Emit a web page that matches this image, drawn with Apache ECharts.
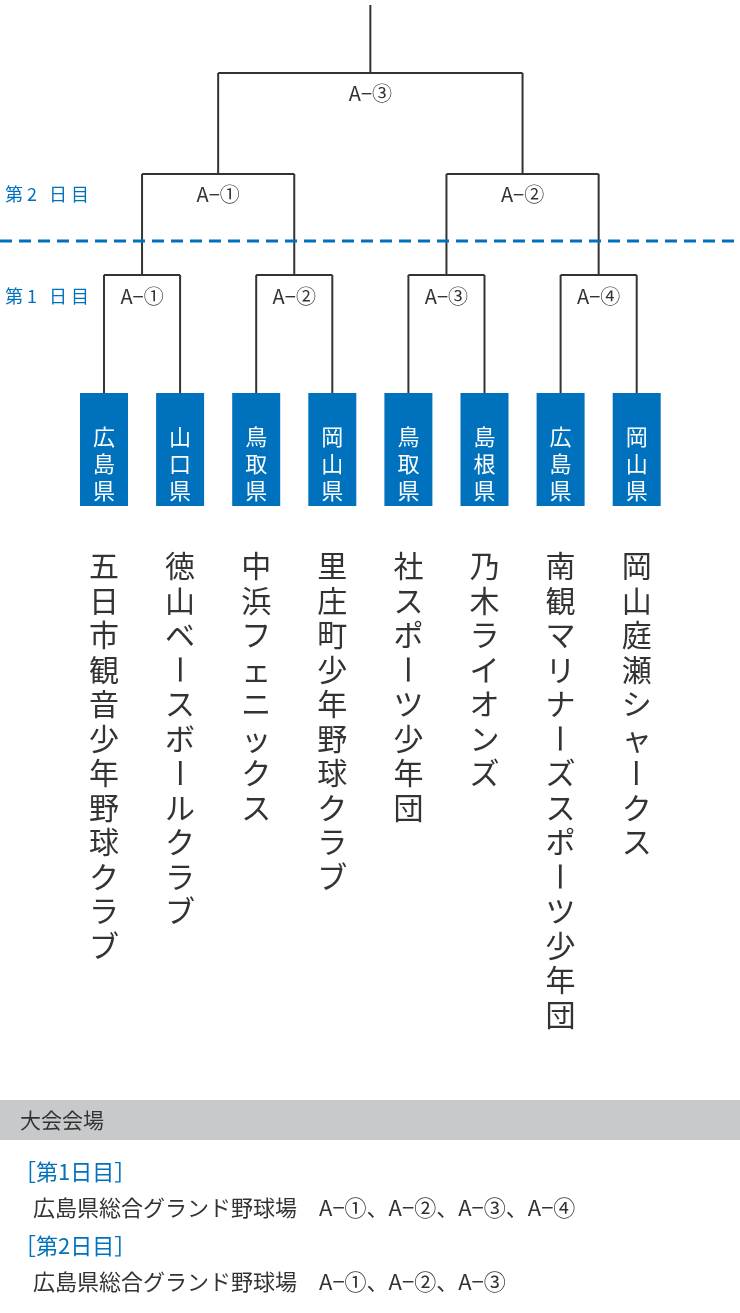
<!DOCTYPE html>
<html><head><meta charset="utf-8">
<script src="https://cdn.jsdelivr.net/npm/echarts@6/dist/echarts.min.js"></script>
<style>html,body{margin:0;padding:0;background:#fff}#c{width:740px;height:1313px}</style>
</head><body><div id="c"></div>
<script>
;(function() {
  const prefectures = ['広島県', '山口県', '鳥取県', '岡山県', '鳥取県', '島根県', '広島県', '岡山県']
  const teams = ['五日市観音少年野球クラブ', '徳山ベースボールクラブ', '中浜フェニックス', '里庄町少年野球クラブ',
    '社スポーツ少年団', '乃木ライオンズ', '南観マリナーズスポーツ少年団', '岡山庭瀬シャークス']
  const round1Games = ['A−①', 'A−②', 'A−③', 'A−④']
  const round2Games = ['A−①', 'A−②']
  const finalGame = ['A−③']
  const dayLabels = ['第2日目', '第1日目']
  const venueDays = ['［第1日目］', '［第2日目］']
  const venueGames = ['広島県総合グランド野球場　A−①、A−②、A−③、A−④', '広島県総合グランド野球場　A−①、A−②、A−③']

  const BLUE = '#0071bc'
  const INK = '#333'
  const FONT = '"Noto Sans CJK JP", "Noto Sans", sans-serif'
  const teamX = i => 104 + i * 76.1
  const Y = {top: 5, final: 73, r2: 174, r1: 275, box: 393, boxEnd: 506, names: 566}

  // bracket segments built from the rounds
  const r1Mid = round1Games.map((g, i) => (teamX(2 * i) + teamX(2 * i + 1)) / 2)
  const r2Mid = round2Games.map((g, i) => (r1Mid[2 * i] + r1Mid[2 * i + 1]) / 2)
  const segs = []
  teams.forEach((t, i) => segs.push([teamX(i), Y.box, teamX(i), Y.r1]))
  round1Games.forEach((g, i) => {
    segs.push([teamX(2 * i), Y.r1, teamX(2 * i + 1), Y.r1])
    segs.push([r1Mid[i], Y.r1, r1Mid[i], Y.r2])
  })
  round2Games.forEach((g, i) => {
    segs.push([r1Mid[2 * i], Y.r2, r1Mid[2 * i + 1], Y.r2])
    segs.push([r2Mid[i], Y.r2, r2Mid[i], Y.final])
  })
  segs.push([r2Mid[0], Y.final, r2Mid[1], Y.final])
  segs.push([(r2Mid[0] + r2Mid[1]) / 2, Y.final, (r2Mid[0] + r2Mid[1]) / 2, Y.top])

  const gameLabels = []
  round1Games.forEach((g, i) => gameLabels.push([r1Mid[i], Y.r1 + 21, g]))
  round2Games.forEach((g, i) => gameLabels.push([r2Mid[i], Y.r2 + 20, g]))
  gameLabels.push([(r2Mid[0] + r2Mid[1]) / 2, Y.final + 20, finalGame[0]])

  function vertChars(api, x, y0, str, step, size, color) {
    return str.split('').map((ch, k) => {
      const p = api.coord([x, y0 + k * step])
      return {
        type: 'text', x: p[0], y: p[1], rotation: ch === 'ー' ? -Math.PI / 2 : 0,
        style: {text: ch, fill: color, font: size + 'px ' + FONT, align: 'center', verticalAlign: 'middle'}
      }
    })
  }

  const chart = echarts.init(document.getElementById('c'))
  chart.setOption({
    animation: false,
    grid: {left: 0, right: 0, top: 0, bottom: 0},
    xAxis: {type: 'value', min: 0, max: 740, show: false},
    yAxis: {type: 'value', min: 0, max: 1313, inverse: true, show: false},
    series: [
      {
        type: 'custom', data: segs,
        renderItem: (params, api) => {
          const a = api.coord([api.value(0), api.value(1)]), b = api.coord([api.value(2), api.value(3)])
          return {type: 'line', shape: {x1: a[0], y1: a[1], x2: b[0], y2: b[1]}, style: {stroke: INK, lineWidth: 2}}
        }
      },
      {
        type: 'custom', data: [[0, 241, 740, 241]],
        renderItem: (params, api) => {
          const a = api.coord([api.value(0), api.value(1)]), b = api.coord([api.value(2), api.value(3)])
          return {type: 'line', shape: {x1: a[0], y1: a[1], x2: b[0], y2: b[1]},
            style: {stroke: BLUE, lineWidth: 3, lineDash: [12, 7]}}
        }
      },
      {
        type: 'custom', data: gameLabels,
        renderItem: (params, api) => {
          const p = api.coord([api.value(0), api.value(1)])
          return {type: 'text', x: p[0], y: p[1], style: {text: gameLabels[params.dataIndex][2], fill: INK,
            font: '20px ' + FONT, align: 'center', verticalAlign: 'middle'}}
        }
      },
      {
        type: 'custom', data: dayLabels.map((d, i) => [5, i === 0 ? 194 : 296]),
        renderItem: (params, api) => {
          const p = api.coord([api.value(0), api.value(1)])
          // spaced characters, as in the reference
          return {type: 'group', children: dayLabels[params.dataIndex].split('').map((ch, k) => ({
            type: 'text', x: p[0] + k * 22, y: p[1],
            style: {text: ch, fill: BLUE, font: '18px ' + FONT, align: 'left', verticalAlign: 'middle'}
          }))}
        }
      },
      {
        type: 'custom', data: prefectures.map((p, i) => [i]),
        renderItem: (params, api) => {
          const i = params.dataIndex
          const a = api.coord([teamX(i) - 24, Y.box]), b = api.coord([teamX(i) + 24, Y.boxEnd])
          return {type: 'group', children: [
            {type: 'rect', shape: {x: a[0], y: a[1], width: b[0] - a[0], height: b[1] - a[1]}, style: {fill: BLUE}}
          ].concat(vertChars(api, teamX(i), 437, prefectures[i], 27, 22, '#fff'))}
        }
      },
      {
        type: 'custom', data: teams.map((t, i) => [i]),
        renderItem: (params, api) => {
          const i = params.dataIndex
          return {type: 'group', children: vertChars(api, teamX(i), Y.names, teams[i], 34.5, 30, INK)}
        }
      }
    ],
    graphic: [
      {type: 'rect', shape: {x: 0, y: 1100, width: 740, height: 40}, style: {fill: '#c8c9cb'}},
      {type: 'text', x: 20, y: 1120, style: {text: '大会会場', fill: INK, font: '21px ' + FONT, verticalAlign: 'middle'}},
      {type: 'text', x: 14, y: 1172, style: {text: venueDays[0], fill: BLUE, font: '22px ' + FONT, verticalAlign: 'middle'}},
      {type: 'text', x: 33, y: 1208, style: {text: venueGames[0], fill: INK, font: '22px ' + FONT, verticalAlign: 'middle'}},
      {type: 'text', x: 14, y: 1246, style: {text: venueDays[1], fill: BLUE, font: '22px ' + FONT, verticalAlign: 'middle'}},
      {type: 'text', x: 33, y: 1282, style: {text: venueGames[1], fill: INK, font: '22px ' + FONT, verticalAlign: 'middle'}}
    ]
  })
})()
</script>
</body></html>
